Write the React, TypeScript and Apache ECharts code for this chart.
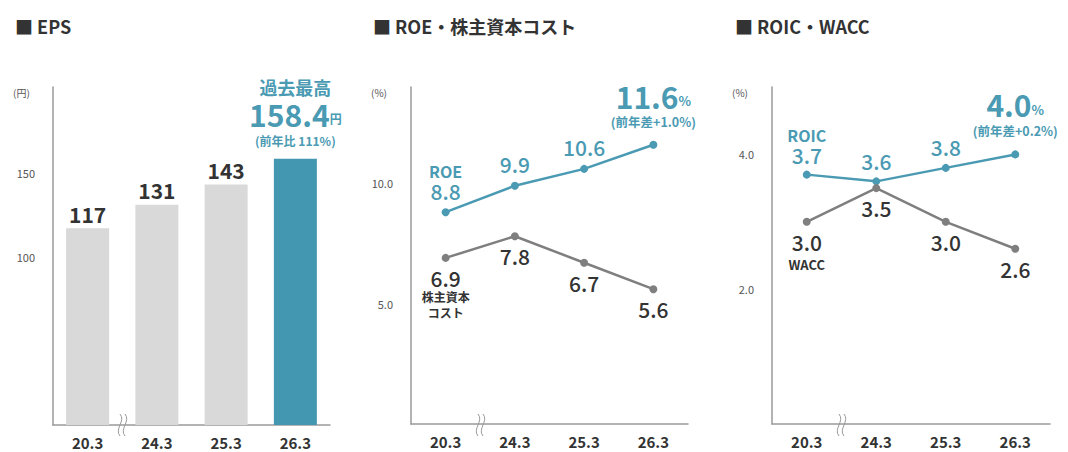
import React, { useEffect, useRef } from "react";
import * as echarts from "echarts";

const categories = ["20.3", "24.3", "25.3", "26.3"];
const epsValues = [117, 131, 143, 158.4];
const roeValues = [8.8, 9.9, 10.6, 11.6];
const costValues = [6.9, 7.8, 6.7, 5.6];
const roicValues = [3.7, 3.6, 3.8, 4.0];
const waccValues = [3.0, 3.5, 3.0, 2.6];
const epsTicks = [100, 150];
const roeTicks = [5, 10];
const roicTicks = [2, 4];
const epsYoY = "111";
const roeDiff = "+1.0";
const roicDiff = "+0.2";
const titles = ["■ EPS", "■ ROE・株主資本コスト", "■ ROIC・WACC"];

const FONT = "'Noto Sans CJK JP', 'Noto Sans', sans-serif";
const TEAL = "#4a9ab3";
const BAR_TEAL = "#4497b0";
const GRAY_BAR = "#d9d9d9";
const GRAY_LINE = "#7f7f7f";
const DARK = "#333333";
const AXIS = "#9a9a9a";

const gridTop = 87;
const gridH = 337;

function breakMark(x: number) {
  const mk = (dx: number) => ({
    type: "bezierCurve",
    shape: {
      x1: x + dx, y1: 414, x2: x + dx, y2: 436,
      cpx1: x + dx + 6, cpy1: 421, cpx2: x + dx - 6, cpy2: 429,
    },
    style: { stroke: "#999", lineWidth: 1, fill: "none" },
    z: 100,
  });
  return [mk(-2), mk(3)];
}

export default function App() {
  const ref = useRef<HTMLDivElement>(null);
  useEffect(() => {
    if (!ref.current) return;
    const chart = echarts.init(ref.current, undefined, { renderer: "svg" });

    const xAxisBase = (gi: number) => ({
      type: "category",
      gridIndex: gi,
      data: categories,
      axisLine: { lineStyle: { color: AXIS, width: 1.5 } },
      axisTick: { show: false },
      axisLabel: { color: DARK, fontSize: 15, fontWeight: "bold", margin: 10, lineHeight: 15, fontFamily: FONT },
    });
    const yAxisBase = (gi: number, max: number, interval: number, ticks: number[], dec: number) => ({
      type: "value",
      gridIndex: gi,
      min: 0,
      max,
      interval,
      splitLine: { show: false },
      axisTick: { show: false },
      axisLine: { show: true, lineStyle: { color: AXIS, width: 1.5 } },
      axisLabel: {
        color: "#555",
        fontSize: 11,
        margin: 18,
        fontFamily: FONT,
        formatter: (v: number) => (ticks.indexOf(v) >= 0 ? v.toFixed(dec) : ""),
      },
    });

    const last = categories.length - 1;

    const epsData = epsValues.map((v, i) => {
      if (i === last) {
        return {
          value: v,
          itemStyle: { color: BAR_TEAL },
          label: {
            show: true,
            position: "top",
            distance: 6,
            formatter: `{a|過去最高}\n{b|${v.toFixed(1)}}{c|円}\n{d|(前年比 ${epsYoY}%)}`,
            rich: {
              a: { fontSize: 18, fontWeight: "bold", color: TEAL, lineHeight: 24, fontFamily: FONT },
              b: { fontSize: 30, fontWeight: "bold", color: TEAL, lineHeight: 30, fontFamily: FONT },
              c: { fontSize: 12, fontWeight: "bold", color: TEAL, lineHeight: 30, fontFamily: FONT, padding: [10, 0, 0, 0] },
              d: { fontSize: 12, fontWeight: "bold", color: TEAL, lineHeight: 24, fontFamily: FONT },
            },
          },
        };
      }
      return {
        value: v,
        itemStyle: { color: GRAY_BAR },
        label: {
          show: true,
          position: "top",
          distance: 4,
          formatter: String(Math.round(v)),
          fontSize: 21,
          fontWeight: "bold",
          color: DARK,
          fontFamily: FONT,
        },
      };
    });

    const topSeriesData = (vals: number[], name: string, diff: string, distFirst: number, dist: number, distLast: number) =>
      vals.map((v, i) => {
        if (i === 0) {
          return {
            value: v,
            label: {
              show: true, position: "top", distance: distFirst,
              formatter: `{n|${name}}\n{v|${v.toFixed(1)}}`,
              rich: {
                n: { fontSize: 16, fontWeight: "bold", color: TEAL, lineHeight: 18, fontFamily: FONT },
                v: { fontSize: 21, color: TEAL, lineHeight: 22, fontFamily: FONT, fontWeight: 500 },
              },
            },
          };
        }
        if (i === vals.length - 1) {
          return {
            value: v,
            label: {
              show: true, position: "top", distance: distLast,
              formatter: `{b|${v.toFixed(1)}}{c|%}\n{d|(前年差${diff}%)}`,
              rich: {
                b: { fontSize: 30, fontWeight: "bold", color: TEAL, lineHeight: 30, fontFamily: FONT },
                c: { fontSize: 13, fontWeight: "bold", color: TEAL, lineHeight: 30, fontFamily: FONT, padding: [10, 0, 0, 0] },
                d: { fontSize: 12.5, fontWeight: "bold", color: TEAL, lineHeight: 22, fontFamily: FONT },
              },
            },
          };
        }
        return {
          value: v,
          label: {
            show: true, position: "top", distance: dist,
            formatter: v.toFixed(1),
            fontSize: 21, color: TEAL, fontFamily: FONT, fontWeight: 500,
          },
        };
      });

    const bottomSeriesData = (vals: number[], name: string, nameFont: number, nameLH: number) =>
      vals.map((v, i) => ({
        value: v,
        label: {
          show: true, position: "bottom", distance: 5,
          formatter: i === 0 ? `{v|${v.toFixed(1)}}\n{n|${name}}` : `{v|${v.toFixed(1)}}`,
          rich: {
            v: { fontSize: 21, color: DARK, lineHeight: 22, fontFamily: FONT, fontWeight: 500 },
            n: { fontSize: nameFont, color: DARK, fontWeight: "bold", lineHeight: nameLH, fontFamily: FONT, align: "center" },
          },
        },
      }));

    const lineStyle = (color: string) => ({
      type: "line",
      symbol: "circle",
      symbolSize: 8,
      lineStyle: { color, width: 2.5 },
      itemStyle: { color },
      z: 5,
    });

    const option: any = {
      animation: false,
      textStyle: { fontFamily: FONT },
      title: titles.map((t, i) => ({
        text: t,
        left: [10, 368, 730][i],
        top: 12,
        textStyle: { fontSize: 18, fontWeight: "bold", color: DARK, fontFamily: FONT },
      })),
      grid: [
        { left: 53, width: 277, top: gridTop, height: 338 },
        { left: 411, width: 277, top: gridTop, height: gridH },
        { left: 772, width: 278, top: gridTop, height: gridH },
      ],
      xAxis: [xAxisBase(0), xAxisBase(1), xAxisBase(2)],
      yAxis: [
        yAxisBase(0, 201, 50, epsTicks, 0),
        yAxisBase(1, 14, 5, roeTicks, 1),
        yAxisBase(2, 5, 2, roicTicks, 1),
      ],
      series: [
        { type: "bar", xAxisIndex: 0, yAxisIndex: 0, barWidth: 43, data: epsData },
        { ...lineStyle(TEAL), xAxisIndex: 1, yAxisIndex: 1, data: topSeriesData(roeValues, "ROE", roeDiff, 6, 7, 8) },
        { ...lineStyle(GRAY_LINE), xAxisIndex: 1, yAxisIndex: 1, data: bottomSeriesData(costValues, "株主資本\nコスト", 12, 16) },
        { ...lineStyle(TEAL), xAxisIndex: 2, yAxisIndex: 2, data: topSeriesData(roicValues, "ROIC", roicDiff, 5, 6, 9) },
        { ...lineStyle(GRAY_LINE), xAxisIndex: 2, yAxisIndex: 2, data: bottomSeriesData(waccValues, "WACC", 13, 24) },
      ],
      graphic: [
        { type: "text", left: 13, top: 87, style: { text: "(円)", fontSize: 10, fill: "#555", fontFamily: FONT } },
        { type: "text", left: 371, top: 87, style: { text: "(%)", fontSize: 10, fill: "#555", fontFamily: FONT } },
        { type: "text", left: 732, top: 87, style: { text: "(%)", fontSize: 10, fill: "#555", fontFamily: FONT } },
        ...breakMark(122),
        ...breakMark(480),
        ...breakMark(841),
      ],
    };
    chart.setOption(option);
    return () => chart.dispose();
  }, []);
  return <div ref={ref} style={{ position: "absolute", left: 0, top: 0, width: 1068, height: 452 }} />;
}
